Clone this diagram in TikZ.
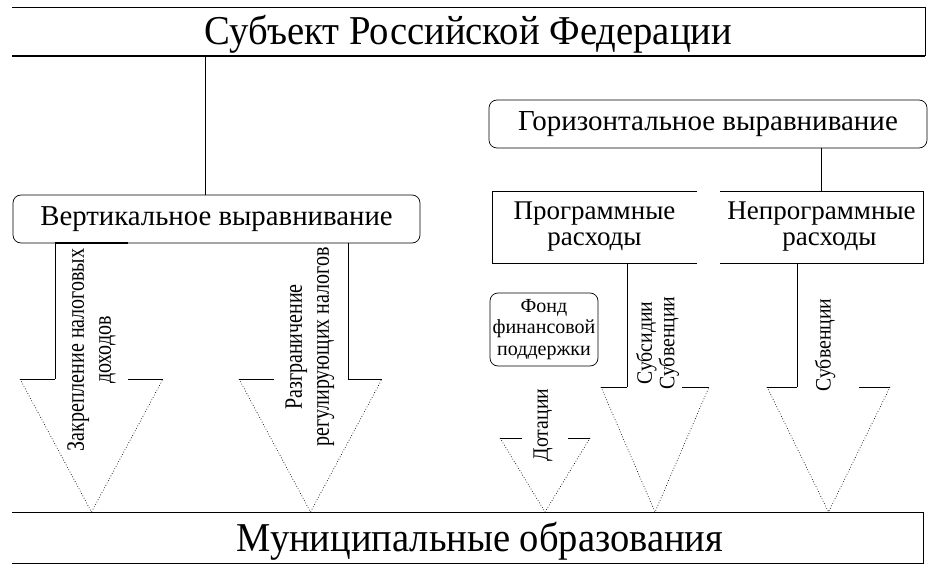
\documentclass[tikz,border=0pt]{standalone}
\usepackage{fontspec}
\setmainfont{Liberation Serif}
\usepackage{graphicx}
\newcommand{\sqz}[2]{\scalebox{#1}[1]{\begin{tabular}{@{}c@{}}#2\end{tabular}}}
\begin{document}
\begin{tikzpicture}[x=1pt,y=-1pt,
  edge/.style={line width=0.8pt},
  thickedge/.style={line width=1.6pt},
  rbox/.style={draw, rounded corners=8pt, line width=0.7pt, inner sep=0pt},
  pbox/.style={inner sep=0pt, outer sep=0pt},
  head/.style={line width=0.7pt, dotted},
  shoulder/.style={line width=1pt}]
\useasboundingbox (0,0) rectangle (937,572);
\fill[white] (0,0) rectangle (937,572);

% top box
\node[pbox, minimum width=913pt, minimum height=49pt, text height=27pt, text depth=0pt,
      font=\fontsize{41}{45}\selectfont] (top) at (468.5,31.5) {\scalebox{0.943}[1]{Субъект Российской Федерации}};
\draw[edge] (top.north west) -- (top.north east) -- (top.south east);
\draw[thickedge] (top.south west) -- (top.south east);

% bottom box
\node[pbox, minimum width=911pt, minimum height=51pt, text height=27pt, text depth=0pt,
      font=\fontsize{41}{45}\selectfont] (bot) at (467.5,537.5) {\hspace*{25pt}\scalebox{0.94}[1]{Муниципальные образования}};
\draw[edge] (bot.north west) -- (bot.north east) -- (bot.south east) -- (bot.south west);

% vertical equalisation
\node[rbox, minimum width=407pt, minimum height=48pt, font=\fontsize{28.8}{30}\selectfont] (vert) at (216.5,219) {Вертикальное выравнивание};
\coordinate (ctop) at (205,56);
\draw[edge] (ctop) -- (ctop |- vert.north);

% horizontal equalisation
\node[rbox, minimum width=438pt, minimum height=48pt, font=\fontsize{29}{30}\selectfont] (hor) at (708,124) {Горизонтальное выравнивание};

% program / non-program
\node[pbox, minimum width=205pt, minimum height=72pt, align=center, font=\fontsize{27}{26}\selectfont] (prog) at (594.5,227) {Программные\\расходы\hspace*{0pt}};
\draw[edge] (prog.north east) -- (prog.north west) -- (prog.south west) -- (prog.south east);
\node[pbox, minimum width=203pt, minimum height=72pt, align=center, font=\fontsize{27}{26}\selectfont] (nprog) at (821.5,227) {Непрограммные\\\hspace*{16pt}расходы};
\draw[edge] (nprog.north west) -- (nprog.north east) -- (nprog.south east) -- (nprog.south west);
\draw[edge] (hor.south -| nprog.north) -- (nprog.north);

% fund
\node[rbox, minimum width=108pt, minimum height=73pt, align=center, font=\fontsize{20}{21.5}\selectfont] (fond) at (544,329.5) {Фонд\\финансовой\\поддержки};

% arrow 1
\coordinate (t1) at (91.5,512);
\draw[thickedge] (55,243) -- (128,243);
\draw[edge] (55,243) -- (55,379);
\draw[shoulder] (20,379) -- (55,379);
\draw[shoulder] (128,379) -- (163,379);
\draw[head] (20,379) -- (t1) -- (163,379);
\node[rotate=90, inner sep=0pt, font=\fontsize{25}{27}\selectfont] (txa) at (92,350) {\sqz{0.8}{Закрепление налоговых\\доходов}};

% arrow 2
\coordinate (t2) at (310.5,512);
\draw[edge] (348,243) -- (348,379);
\draw[shoulder] (239,379) -- (274,379);
\draw[shoulder] (348,379) -- (382,379);
\draw[head] (239,379) -- (t2) -- (382,379);
\node[rotate=90, inner sep=0pt, font=\fontsize{25}{27}\selectfont] (txb) at (310,347) {\sqz{0.8}{Разграничение\\регулирующих налогов}};

% arrow dotations
\coordinate (t3) at (545,512);
\draw[shoulder] (500,438) -- (522,438);
\draw[shoulder] (568,438) -- (590,438);
\draw[head] (500,438) -- (t3) -- (590,438);
\node[rotate=90, inner sep=0pt, font=\fontsize{22}{24}\selectfont] (txc) at (543,425) {\sqz{0.9}{Дотации}};

% arrow subsidies
\coordinate (t4) at (655,512);
\draw[edge] (prog.south -| 627,0) -- (627,387);
\draw[shoulder] (601,387) -- (627,387);
\draw[shoulder] (682,387) -- (709,387);
\draw[head] (601,387) -- (t4) -- (709,387);
\node[rotate=90, inner sep=0pt, font=\fontsize{22}{22}\selectfont] (txd) at (658.5,343) {\sqz{0.9}{Субсидии\\Субвенции}};

% arrow subventions
\coordinate (t5) at (828.5,512);
\draw[edge] (nprog.south -| 797,0) -- (797,387);
\draw[shoulder] (767,387) -- (797,387);
\draw[shoulder] (859,387) -- (890,387);
\draw[head] (767,387) -- (t5) -- (890,387);
\node[rotate=90, inner sep=0pt, font=\fontsize{22}{22}\selectfont] (txe) at (826,345) {\sqz{0.9}{Субвенции}};
\end{tikzpicture}
\end{document}
